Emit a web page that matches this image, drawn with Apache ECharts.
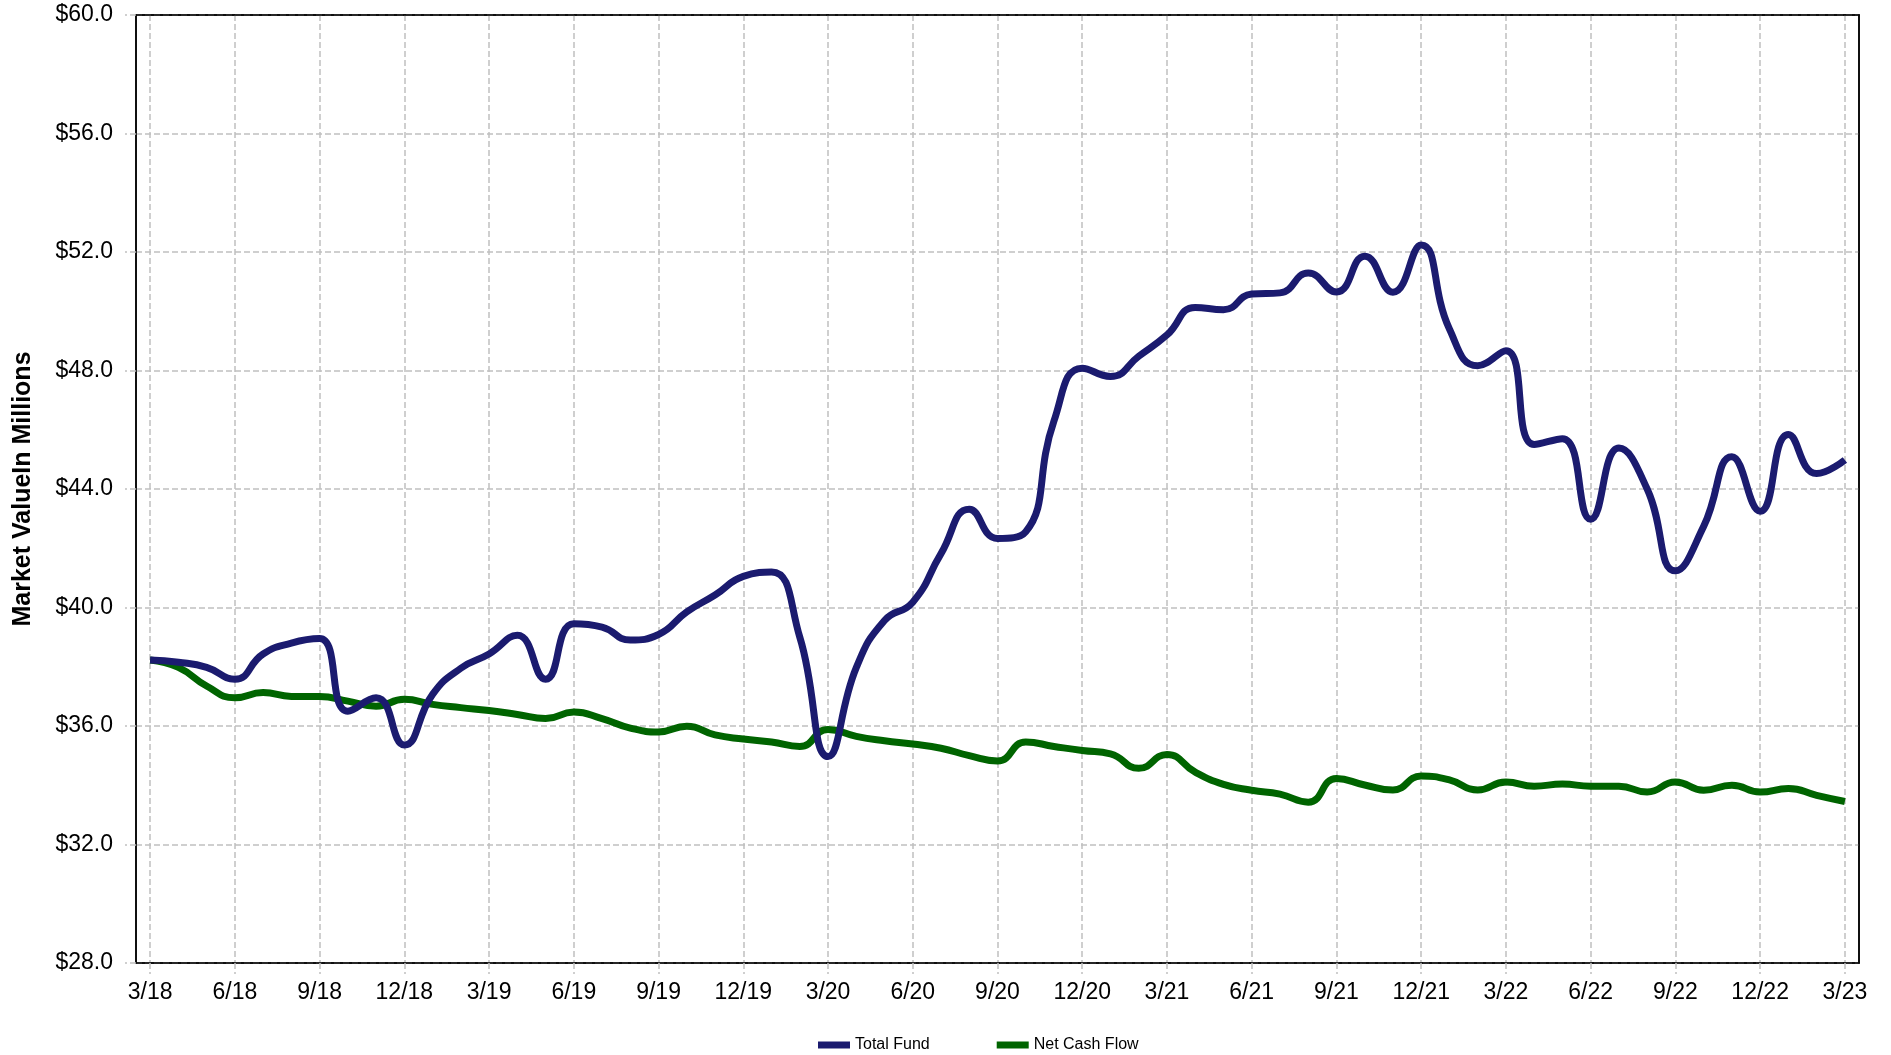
<!DOCTYPE html>
<html>
<head>
<meta charset="utf-8">
<script src="https://cdn.jsdelivr.net/npm/echarts@6/dist/echarts.min.js"></script>
<style>
  html, body { margin: 0; padding: 0; background: #fff; }
  #chart { width: 1891px; height: 1055px; }
</style>
</head>
<body>
<div id="chart"></div>
<script>
// monthly points, 3/18 .. 3/23
const months = [
  '3/18', '4/18', '5/18', '6/18', '7/18', '8/18', '9/18', '10/18', '11/18', '12/18', '1/19', '2/19',
  '3/19', '4/19', '5/19', '6/19', '7/19', '8/19', '9/19', '10/19', '11/19', '12/19', '1/20', '2/20',
  '3/20', '4/20', '5/20', '6/20', '7/20', '8/20', '9/20', '10/20', '11/20', '12/20', '1/21', '2/21',
  '3/21', '4/21', '5/21', '6/21', '7/21', '8/21', '9/21', '10/21', '11/21', '12/21', '1/22', '2/22',
  '3/22', '4/22', '5/22', '6/22', '7/22', '8/22', '9/22', '10/22', '11/22', '12/22', '1/23', '2/23',
  '3/23'
];

const totalFund = [
  38.23, 38.15, 37.98, 37.58, 38.43, 38.80, 38.95, 36.50, 36.95, 35.36, 37.07, 37.95,
  38.43, 39.06, 37.58, 39.45, 39.34, 38.90, 39.09, 39.85, 40.42, 41.05, 41.20, 39.00,
  34.97, 37.97, 39.56, 40.18, 41.82, 43.32, 42.33, 42.56, 46.30, 48.08, 47.80, 48.48,
  49.20, 50.13, 50.05, 50.58, 50.62, 51.29, 50.65, 51.86, 50.64, 52.24, 49.40, 48.16,
  48.67, 45.50, 45.70, 42.98, 45.38, 44.00, 41.24, 42.74, 45.09, 43.25, 45.84, 44.52,
  44.98
];

const netCashFlow = [
  38.23, 37.98, 37.35, 36.95, 37.13, 37.00, 37.00, 36.84, 36.67, 36.90, 36.73, 36.62,
  36.52, 36.39, 36.25, 36.47, 36.25, 35.93, 35.80, 35.99, 35.70, 35.56, 35.46, 35.31,
  35.88, 35.65, 35.50, 35.39, 35.25, 35.00, 34.82, 35.46, 35.31, 35.17, 35.06, 34.57,
  35.04, 34.44, 34.03, 33.83, 33.70, 33.43, 34.23, 34.01, 33.84, 34.31, 34.18, 33.84,
  34.11, 33.97, 34.04, 33.97, 33.97, 33.77, 34.11, 33.83, 34.00, 33.77, 33.89, 33.66,
  33.45
];

const chart = echarts.init(document.getElementById('chart'));

const gridLine = {
  color: '#c0c0c0',
  width: 1.5,
  type: [6, 3]
};

const frameLine = { color: '#000', width: 1.5 };

const option = {
  animation: false,
  textStyle: {
    fontFamily: 'Liberation Sans, Arial, sans-serif'
  },
  grid: {
    left: 136,
    right: 32,
    top: 15,
    bottom: 92,
    show: true,
    borderColor: '#000',
    borderWidth: 1.5,
    containLabel: false,
    outerBoundsMode: 'none'
  },
  legend: {
    left: 813,
    top: 1032,
    icon: 'rect',
    itemWidth: 32,
    itemHeight: 7,
    itemGap: 67,
    textStyle: {
      fontSize: 16,
      color: '#000',
      fontFamily: 'Liberation Sans, Arial, sans-serif'
    },
    data: ['Total Fund', 'Net Cash Flow']
  },
  xAxis: [
    {
      type: 'category',
      data: months,
      boundaryGap: true,
      axisLine: { show: true, lineStyle: frameLine },
      axisTick: {
        show: true,
        interval: 2,
        alignWithLabel: true,
        length: 11,
        lineStyle: gridLine
      },
      axisLabel: {
        interval: 2,
        margin: 18,
        fontSize: 23,
        color: '#000'
      },
      splitLine: {
        show: true,
        interval: 2,
        alignWithLabel: true,
        lineStyle: gridLine
      }
    },
    {
      // top edge of the frame
      type: 'category',
      data: months,
      position: 'top',
      boundaryGap: true,
      axisLine: { show: true, lineStyle: frameLine },
      axisTick: { show: false },
      axisLabel: { show: false },
      splitLine: { show: false }
    }
  ],
  yAxis: [
    {
      type: 'value',
      min: 28,
      max: 60,
      interval: 4,
      name: 'Market ValueIn Millions',
      nameLocation: 'middle',
      nameGap: 100,
      nameTextStyle: {
        fontSize: 25,
        fontWeight: 'bold',
        color: '#000'
      },
      axisLine: { show: true, lineStyle: frameLine },
      axisTick: {
        show: true,
        length: 11,
        lineStyle: gridLine
      },
      axisLabel: {
        margin: 23,
        fontSize: 23,
        color: '#000',
        formatter: v => '$' + v.toFixed(1)
      },
      splitLine: {
        show: true,
        lineStyle: gridLine
      }
    },
    {
      // right edge of the frame
      type: 'value',
      min: 28,
      max: 60,
      interval: 4,
      position: 'right',
      axisLine: { show: true, lineStyle: frameLine },
      axisTick: { show: false },
      axisLabel: { show: false },
      splitLine: { show: false }
    }
  ],
  series: [
    {
      name: 'Total Fund',
      type: 'line',
      data: totalFund,
      smooth: 0.5,
      showSymbol: false,
      z: 3,
      lineStyle: { color: '#1b1b6f', width: 7 },
      itemStyle: { color: '#1b1b6f' }
    },
    {
      name: 'Net Cash Flow',
      type: 'line',
      data: netCashFlow,
      smooth: 0.5,
      showSymbol: false,
      z: 2,
      lineStyle: { color: '#006400', width: 7 },
      itemStyle: { color: '#006400' }
    }
  ]
};

chart.setOption(option);
</script>
</body>
</html>
